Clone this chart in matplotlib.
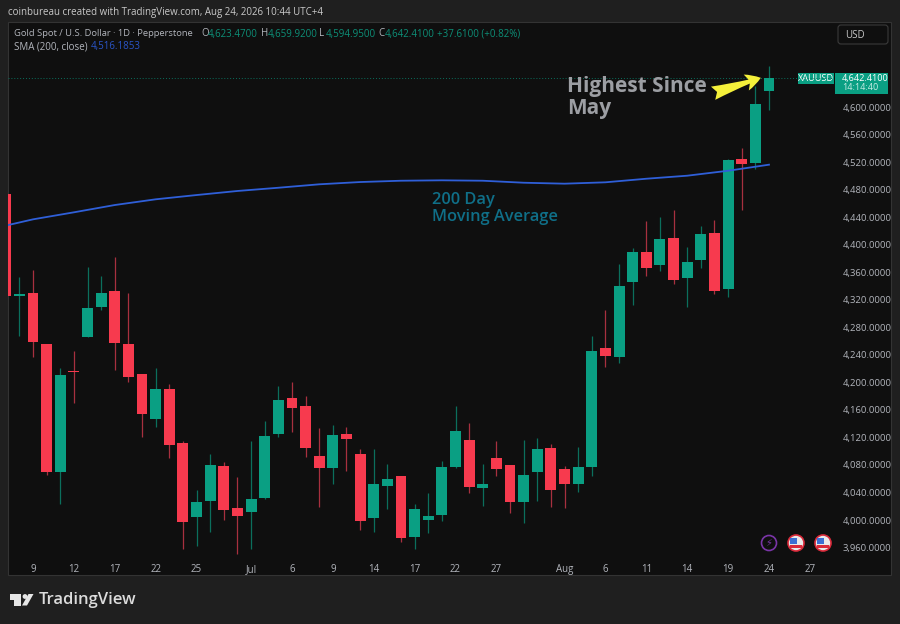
import matplotlib
matplotlib.use('Agg')
import matplotlib.pyplot as plt
from matplotlib.patches import Circle, FancyBboxPatch, Polygon, Rectangle

plt.rcParams['font.family'] = ['Open Sans', 'DejaVu Sans']

# Daily candles (last one from the header)
opens = [4473.6, 4326, 4329.3, 4255.6, 4069.7, 4217, 4266.3, 4309, 4333, 4256, 4212, 4147, 4190.3, 4112.2,
         4004.3, 4027, 4078.4, 4017.3, 4011, 4032.3, 4124.4, 4176.7, 4165.6, 4093.3, 4075.5, 4124.4, 4096.2,
         4003.3, 4049.8, 4063.8, 3975.7, 4000, 4007.2, 4077.4, 4116.6, 4046.8, 4089.6, 4080.3, 4025.6, 4069.2,
         4104.5, 4074, 4052.2, 4077, 4249.8, 4237.2, 4346.2, 4388.9, 4370.4, 4409.2, 4351.5, 4377.7, 4416.5,
         4335, 4524.9, 4519, 4623.47]
closes = [4325.8, 4328, 4258.5, 4069.7, 4210.2, 4215, 4308, 4330.2, 4256.7, 4207.3, 4154, 4190.3, 4108.5, 3997,
          4025.6, 4079.4, 4015, 4005.7, 4030.4, 4122, 4173.8, 4163, 4104.5, 4075.5, 4123, 4117.2, 3999,
          4051.8, 4059, 3973.8, 4016, 4006.2, 4077, 4129.7, 4047.9, 4051.8, 4074.5, 4026.5, 4065.3, 4102.6,
          4044, 4053, 4077, 4245.9, 4238.6, 4340.3, 4389.7, 4366.5, 4408.2, 4348.6, 4374.8, 4415.5, 4332.2,
          4523, 4517.2, 4603.9, 4642.41]
highs = [4474, 4353, 4363, 4256, 4220.3, 4245, 4368, 4354.4, 4382.5, 4329.3, 4212, 4220.3, 4197.5, 4114.7,
         4043.5, 4095.4, 4084.6, 4062.8, 4114.7, 4143.8, 4194.6, 4200.9, 4180, 4133.2, 4138, 4134.6, 4103,
         4102.6, 4081.3, 4063.8, 4022.7, 4039.6, 4086, 4165.6, 4141.3, 4081.3, 4115.1, 4080.3, 4116.2, 4119,
         4110.3, 4078.4, 4105.5, 4267.3, 4305, 4371.4, 4394.7, 4434.4, 4440.6, 4450.3, 4397, 4427.5, 4435.8,
         4524.4, 4540, 4631, 4659.92]
lows = [4325, 4267.7, 4236.7, 4065.7, 4023.2, 4169.5, 4265.4, 4305, 4217.9, 4200.9, 4120, 4135.5, 4089.6, 3957.8,
        3962.6, 3982, 4000, 3950.5, 3957.3, 4030, 4120, 4128.2, 4091, 4019.2, 4053, 4071.5, 3985.4,
        3982, 4015.5, 3968.4, 3957.8, 3980.6, 3999, 4076, 4038.7, 4020.2, 4063.8, 4009.7, 3995, 4027,
        4019.2, 4017.8, 4041, 4063.8, 4221.8, 4228.5, 4311.9, 4354.4, 4361.7, 4342.8, 4309.8, 4365.6, 4328.3,
        4324.4, 4450.3, 4509.5, 4594.95]
days = list(range(-2, 55))

# 200 day average, read every third candle
sma_days = [-2, 0, 3, 6, 9, 12, 15, 18, 21, 24, 27, 30, 33, 36, 39, 42, 45, 48, 51, 54]
sma_vals = [4427.7, 4436.8, 4447, 4457.6, 4465.9, 4472.1, 4478, 4482.7, 4487.7, 4491, 4492.9, 4493.5,
            4492.9, 4490, 4488.6, 4490.6, 4495.8, 4500.2, 4507.4, 4516.2]

x_tick_pos = [0, 3, 6, 9, 12, 16, 19, 22, 25, 28, 31, 34, 39, 42, 45, 48, 51, 54, 57]
x_tick_labels = ['9', '12', '17', '22', '25', 'Jul', '6', '9', '14', '17', '22', '27', 'Aug', '6', '11', '14',
                 '19', '24', '27']
y_ticks = list(range(3960, 4601, 40))

GREEN = '#0a9f83'
RED = '#f73a4e'
PANEL = '#0f0f0f'
GREY = '#b2b5bc'

fig = plt.figure(figsize=(9, 6.24), dpi=100, facecolor='#1f1f1f')

# background layer in pixels for the frame, logo and header
bg = fig.add_axes([0, 0, 1, 1])
bg.set_xlim(0, 900)
bg.set_ylim(624, 0)
bg.axis('off')
bg.add_patch(Rectangle((8, 22), 883, 553, fc=PANEL, ec='#333333', lw=0.8))

# main chart, placed so that x 8..834 and y 22..556 hold the candles
ax = fig.add_axes([8 / 900, 1 - 556 / 624, 826 / 900, 534 / 624])
ax.patch.set_alpha(0)
ax.set_xlim(-1.834, 58.77)
ax.set_ylim(3947.7, 4723.5)
for s in ax.spines.values():
    s.set_visible(False)

colors = [GREEN if c >= o else RED for o, c in zip(opens, closes)]
wick_colors = ['#0b6f5d' if c == GREEN else '#a8303f' for c in colors]
ax.vlines(days, lows, highs, colors=wick_colors, lw=0.9, zorder=2)
bottoms = [min(o, c) for o, c in zip(opens, closes)]
heights = [abs(o - c) for o, c in zip(opens, closes)]
ax.bar(days, heights, bottom=bottoms, width=0.8, color=colors, lw=0, zorder=3)

ax.plot(sma_days, sma_vals, color='#2f5fd8', lw=1.3, zorder=4)
ax.axhline(closes[-1], color='#0a6f5c', lw=0.7, ls=(0, (1, 2)), zorder=1)

ax.set_xticks(x_tick_pos)
ax.set_xticklabels(x_tick_labels, fontsize=7, color=GREY)
ax.set_yticks(y_ticks)
ax.set_yticklabels(['{:,.4f}'.format(v) for v in y_ticks], fontsize=6.8, color=GREY)
ax.yaxis.tick_right()
ax.tick_params(axis='x', length=0, pad=6)
ax.tick_params(axis='y', length=0, pad=6.5)

# notes on the chart
ax.text(0.677, 0.8585, 'Highest Since\nMay', transform=ax.transAxes, color='#9c9ea3', fontsize=15, fontweight='bold',
        va='center', ha='left', linespacing=1.05)
ax.text(0.513, 0.651, '200 Day\nMoving Average', transform=ax.transAxes, color='#0f6f88', fontsize=11.8,
        fontweight='semibold', va='center', ha='left', linespacing=1.08)
ax.annotate('', xy=(53.4, closes[-1]), xytext=(49.9, 4620),
            arrowprops=dict(arrowstyle='fancy,head_length=0.55,head_width=0.6,tail_width=0.5', mutation_scale=20,
                            fc='#f4f03a', ec='#f4f03a', lw=0, shrinkA=0, shrinkB=0))

# header texts
bg.text(8, 12, 'coinbureau created with TradingView.com, Aug 24, 2026 10:44 UTC+4', fontsize=7, color='#c9c9c9', va='center')
bg.text(14, 34, 'Gold Spot / U.S. Dollar · 1D · Pepperstone', fontsize=6.75, color=GREY, va='center')
for xp, label, val in [(201, 'O', '4,623.4700'), (261, 'H', '4,659.9200'), (319, 'L', '4,594.9500'), (378, 'C', '4,642.4100')]:
    bg.text(xp, 34, label, fontsize=7, color=GREY, va='center')
    bg.text(xp + 7, 34, val, fontsize=7, color='#0d8f78', va='center')
bg.text(437, 34, '+37.6100 (+0.82%)', fontsize=7, color='#0d8f78', va='center')
bg.text(14, 47, 'SMA (200, close)', fontsize=7, color=GREY, va='center')
bg.text(91, 47, '4,516.1853', fontsize=7, color='#2a55c8', va='center')

# USD box and last price tags
bg.add_patch(FancyBboxPatch((838, 25), 50, 19, boxstyle='round,pad=0,rounding_size=3', fc=PANEL, ec='#3a3a3a', lw=0.8))
bg.text(845, 35, 'USD', fontsize=7, color='#c9c9c9', va='center')
bg.add_patch(Rectangle((798, 73), 36, 11, fc=GREEN, lw=0))
bg.text(816, 78.5, 'XAUUSD', fontsize=6.6, color='white', va='center', ha='center')
bg.add_patch(Rectangle((835, 73), 53, 21, fc=GREEN, lw=0))
bg.text(842, 78, '4,642.4100', fontsize=6.6, color='white', va='center')
bg.text(842, 88, '14:14:40', fontsize=6.6, color='#c8ece4', va='center')

# event markers under the candles
bg.add_patch(Circle((769, 543), 7.5, fc='none', ec='#7a35a8', lw=1.2, zorder=5))
bg.text(769, 543, '⚡', fontsize=7, color='#7a35a8', ha='center', va='center', zorder=6, family=['DejaVu Sans'])
for cx in [796, 823]:
    bg.add_patch(Circle((cx, 543), 8, fc='#e9e9e9', ec='#d92a3a', lw=1.2, zorder=5))
    bg.add_patch(Rectangle((cx - 6, 545), 12, 3, fc='#d92a3a', lw=0, zorder=6))
    bg.add_patch(Rectangle((cx - 6, 538), 6.5, 5.5, fc='#3b6fd4', lw=0, zorder=6))

# TradingView logo
bg.add_patch(Polygon([(10, 594), (21, 594), (21, 605.5), (14, 605.5), (14, 599.5), (10, 599.5)], fc='#e6e6e6', lw=0))
bg.add_patch(Circle((25, 596.5), 2.4, fc='#e6e6e6', lw=0))
bg.add_patch(Polygon([(28.5, 594), (33.5, 594), (27, 605.5), (22, 605.5)], fc='#e6e6e6', lw=0))
bg.text(39, 600.5, 'TradingView', fontsize=12, fontweight='semibold', color='#dcdcdc', va='center')

fig.savefig('out.png', dpi=100, facecolor=fig.get_facecolor())
